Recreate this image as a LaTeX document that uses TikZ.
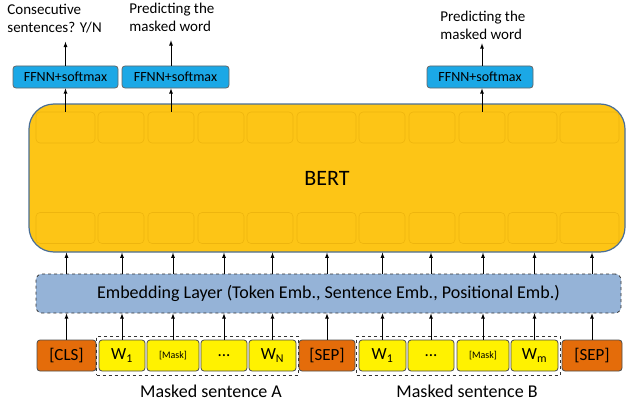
\documentclass[tikz,border=0pt]{standalone}
\usepackage{fontspec}
\setmainfont{Carlito}
\usetikzlibrary{fit}
\definecolor{tokorange}{HTML}{E46C0A}
\definecolor{bertfill}{HTML}{FDC516}
\definecolor{bertline}{HTML}{4A6E96}
\definecolor{cellline}{HTML}{EEB50E}
\definecolor{embfill}{HTML}{95B3D7}
\definecolor{ffnnblue}{HTML}{1BA8E6}
\begin{document}
\begin{tikzpicture}[x=1pt,y=-1pt,line width=.8pt,
    tok/.style={draw=black!70,rounded corners=3pt,minimum height=31pt,inner sep=0pt,font=\fontsize{17}{20}\selectfont},
    special/.style={tok,fill=tokorange},
    word/.style={tok,fill=yellow},
    sentbox/.style={draw=black!80,dashed,inner xsep=2pt,inner ysep=3.5pt},
    cell/.style={draw=cellline,line width=.6pt,rounded corners=4pt,minimum height=31pt,inner sep=0pt},
    ffnn/.style={draw=black!60,fill=ffnnblue,rounded corners=3pt,minimum height=22pt,inner sep=0pt,font=\fontsize{14}{16}\selectfont},
    outlabel/.style={align=left,inner sep=0pt,font=\fontsize{15}{18}\selectfont}]
    \useasboundingbox (0,0) rectangle (626,404);

    % input tokens
    \node[special,minimum width=59pt] (cls) at (66.5,355.5) {[CLS]};
    \node[word,minimum width=46pt] (a1) at (122,355.5) {W\textsubscript{1}};
    \node[word,minimum width=52pt,font=\fontsize{10}{12}\selectfont] (a2) at (173,355.5) {[Mask]};
    \node[word,minimum width=46pt] (a3) at (224,355.5) {...};
    \node[word,minimum width=47pt] (a4) at (272.5,355.5) {W\textsubscript{N}};
    \node[special,minimum width=56pt] (sep1) at (327,355.5) {[SEP]};
    \node[word,minimum width=47pt] (b1) at (382.5,355.5) {W\textsubscript{1}};
    \node[word,minimum width=46pt] (b2) at (431,355.5) {...};
    \node[word,minimum width=52pt,font=\fontsize{10}{12}\selectfont] (b3) at (483,355.5) {[Mask]};
    \node[word,minimum width=47pt] (b4) at (534.5,355.5) {W\textsubscript{m}};
    \node[special,minimum width=60pt] (sep2) at (592,355.5) {[SEP]};

    \node[sentbox,fit=(a1)(a4)] (sentA) {};
    \node[sentbox,fit=(b1)(b4)] (sentB) {};
    \node[font=\fontsize{18}{20}\selectfont] (labA) at (211,391) {Masked sentence A};
    \node[font=\fontsize{18}{20}\selectfont] (labB) at (467,391) {Masked sentence B};

    % embedding layer
    \node[draw=black!80,dashed,fill=embfill,rounded corners=6pt,minimum width=585pt,minimum height=39pt,
        font=\fontsize{18}{20}\selectfont] (emb) at (328.5,293.5)
        {Embedding Layer (Token Emb., Sentence Emb., Positional Emb.)};

    % BERT
    \node[draw=bertline,fill=bertfill,line width=1.2pt,rounded corners=25pt,minimum width=596pt,minimum height=148pt,
        font=\fontsize{22}{24}\selectfont] (bert) at (327,178) {BERT};
    \foreach \cx/\w [count=\i] in {65.5/59,121/46,171/46,221/46,270/46,326.5/59,382/46,432/46,482/46,532.5/49,589.5/59} {
        \node[cell,minimum width=\w pt] (top\i) at (\cx,127.5) {};
        \node[cell,minimum width=\w pt] (bot\i) at (\cx,228) {};
    }

    \foreach \t in {cls,a1,a2,a3,a4,sep1,b1,b2,b3,b4,sep2} {
        \draw[-latex] (\t.north) -- (\t.north |- emb.south);
        \draw[-latex] (\t.north |- emb.north) -- (\t.north |- bert.south);
    }

    % output heads
    \node[ffnn,minimum width=105pt] (f1) at (65.5,77) {FFNN+softmax};
    \node[ffnn,minimum width=107pt] (f2) at (175.5,77) {FFNN+softmax};
    \node[ffnn,minimum width=106pt] (f3) at (480,77) {FFNN+softmax};
    \draw[-latex] (top1.north) -- (top1.north |- f1.south);
    \draw[-latex] (top3.north) -- (top3.north |- f2.south);
    \draw[-latex] (top9.north) -- (top9.north |- f3.south);

    \node[outlabel,anchor=north west] (l1) at (7,4) {Consecutive\\sentences? Y/N};
    \node[outlabel,anchor=north west] (l2) at (129,3) {Predicting the\\masked word};
    \node[outlabel,anchor=north west] (l3) at (440,11) {Predicting the\\masked word};
    \draw[-latex,shorten >=8pt] (f1.north) -- (f1.north |- l1.south);
    \draw[-latex,shorten >=8pt] (top3.north |- f2.north) -- (top3.north |- l2.south);
    \draw[-latex,shorten >=3pt] (top9.north |- f3.north) -- (top9.north |- l3.south);
\end{tikzpicture}
\end{document}
